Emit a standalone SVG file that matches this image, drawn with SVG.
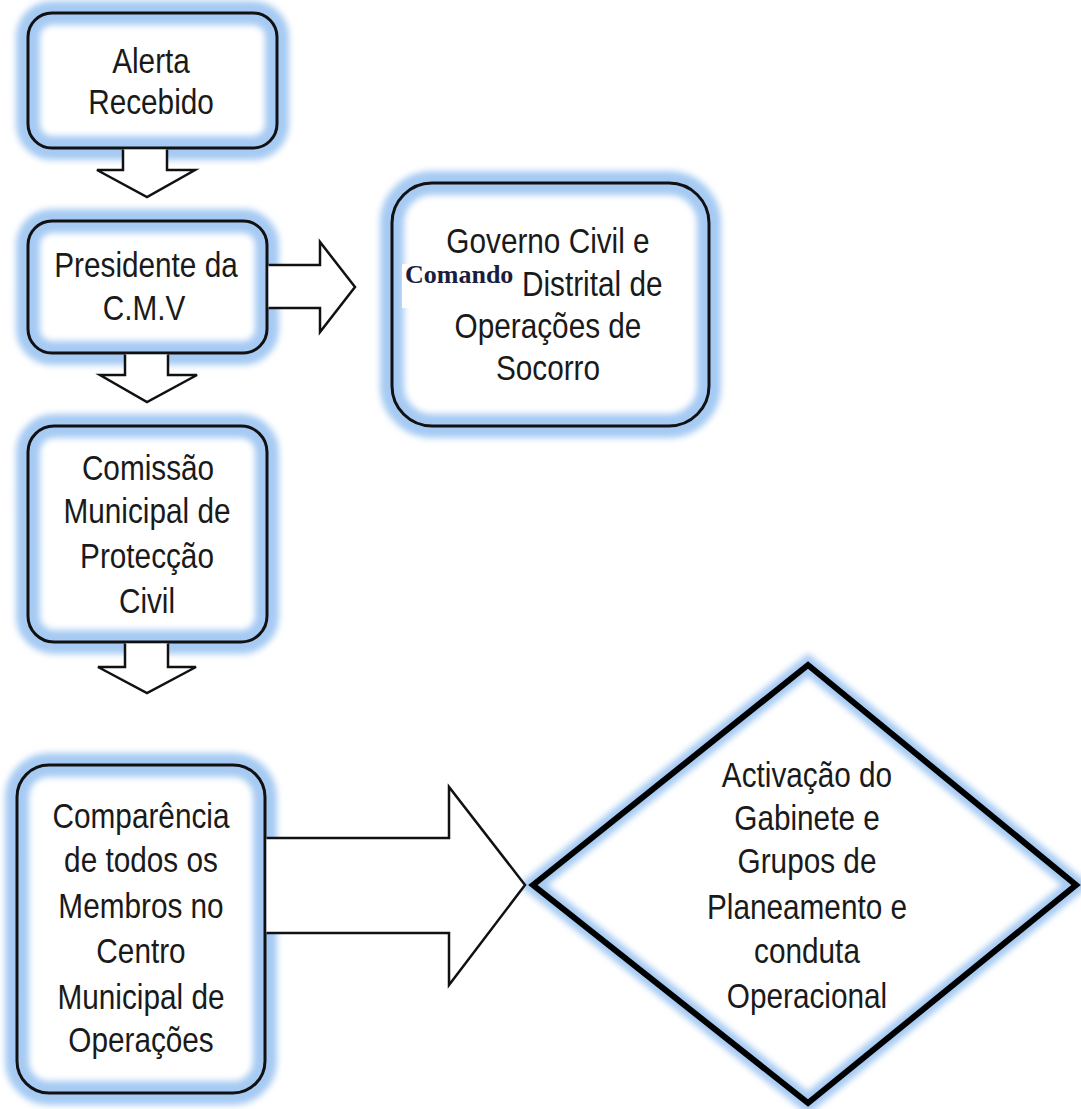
<svg xmlns="http://www.w3.org/2000/svg" width="1081" height="1109" viewBox="0 0 1081 1109">
<defs>
<filter id="blur" x="-20%" y="-20%" width="140%" height="140%">
<feGaussianBlur stdDeviation="3"/>
</filter>
<style>
.fill{fill:#ffffff;stroke:none}
.glow{fill:none;stroke:#a6caf3;stroke-width:24;filter:url(#blur)}
.edge{fill:none;stroke:#111111;stroke-width:3}
.dedge{fill:none;stroke:#000000;stroke-width:6;stroke-linejoin:miter}
.arrow{fill:#ffffff;stroke:#111111;stroke-width:2.5;stroke-linejoin:miter}
.t{font-family:"Liberation Sans",Arial,sans-serif;font-size:35px;fill:#1a1a1a;text-anchor:middle}
.ts{font-family:"Liberation Sans",Arial,sans-serif;font-size:35px;fill:#1a1a1a;text-anchor:start}
.cmd{font-family:"Liberation Serif","Times New Roman",serif;font-size:26px;font-weight:bold;fill:#1c1c3e}
</style>
</defs>
<rect width="1081" height="1109" fill="#ffffff"/>

<g id="node-alerta">
<rect class="fill" x="28" y="13" width="249" height="135" rx="24"/>
<rect class="glow" x="28" y="13" width="249" height="135" rx="24"/>
<rect class="edge" x="28" y="13" width="249" height="135" rx="24"/>
<text class="t" transform="matrix(0.85 0 0 1 151 73)">Alerta</text>
<text class="t" transform="matrix(0.85 0 0 1 151 114)">Recebido</text>
</g>

<g id="node-presidente">
<rect class="fill" x="28" y="221" width="239" height="132" rx="24"/>
<rect class="glow" x="28" y="221" width="239" height="132" rx="24"/>
<rect class="edge" x="28" y="221" width="239" height="132" rx="24"/>
<text class="t" transform="matrix(0.85 0 0 1 146 277)">Presidente da</text>
<text class="t" transform="matrix(0.85 0 0 1 144 320)">C.M.V</text>
</g>

<g id="node-governo">
<rect class="fill" x="392" y="183" width="317" height="243" rx="40"/>
<rect class="glow" x="392" y="183" width="317" height="243" rx="40"/>
<rect class="edge" x="392" y="183" width="317" height="243" rx="40"/>
<text class="t" transform="matrix(0.85 0 0 1 548 253)">Governo Civil e</text>
<rect x="402" y="264" width="116" height="44" fill="#ffffff"/>
<text class="cmd" x="405" y="283">Comando</text>
<text class="ts" transform="matrix(0.85 0 0 1 522 296)">Distrital de</text>
<text class="t" transform="matrix(0.85 0 0 1 548 338)">Operações de</text>
<text class="t" transform="matrix(0.85 0 0 1 548 380)">Socorro</text>
</g>

<g id="node-comissao">
<rect class="fill" x="28" y="426" width="239" height="216" rx="26"/>
<rect class="glow" x="28" y="426" width="239" height="216" rx="26"/>
<rect class="edge" x="28" y="426" width="239" height="216" rx="26"/>
<text class="t" transform="matrix(0.85 0 0 1 148 480)">Comissão</text>
<text class="t" transform="matrix(0.85 0 0 1 147 523)">Municipal de</text>
<text class="t" transform="matrix(0.85 0 0 1 147 568)">Protecção</text>
<text class="t" transform="matrix(0.85 0 0 1 147 613)">Civil</text>
</g>

<g id="node-comparencia">
<rect class="fill" x="17" y="765" width="248" height="328" rx="32"/>
<rect class="glow" x="17" y="765" width="248" height="328" rx="32"/>
<rect class="edge" x="17" y="765" width="248" height="328" rx="32"/>
<text class="t" transform="matrix(0.85 0 0 1 141 828)">Comparência</text>
<text class="t" transform="matrix(0.85 0 0 1 141 872)">de todos os</text>
<text class="t" transform="matrix(0.85 0 0 1 141 918)">Membros no</text>
<text class="t" transform="matrix(0.85 0 0 1 141 963)">Centro</text>
<text class="t" transform="matrix(0.85 0 0 1 141 1009)">Municipal de</text>
<text class="t" transform="matrix(0.85 0 0 1 141 1052)">Operações</text>
</g>

<g id="node-activacao">
<polygon class="fill" points="533,885 808,665 1076,885 808,1103"/>
<polygon class="glow" points="533,885 808,665 1076,885 808,1103" style="stroke-width:18"/>
<polygon class="dedge" points="533,885 808,665 1076,885 808,1103"/>
<text class="t" transform="matrix(0.85 0 0 1 807 787)">Activação do</text>
<text class="t" transform="matrix(0.85 0 0 1 807 830)">Gabinete e</text>
<text class="t" transform="matrix(0.85 0 0 1 807 873)">Grupos de</text>
<text class="t" transform="matrix(0.85 0 0 1 807 919)">Planeamento e</text>
<text class="t" transform="matrix(0.85 0 0 1 807 963)">conduta</text>
<text class="t" transform="matrix(0.85 0 0 1 807 1008)">Operacional</text>
</g>

<g id="connectors">
<path class="arrow" d="M123,149.5 V170 H97 L147,197 L195,170 H167 V149.5"/>
<path class="arrow" d="M125,354.5 V375 H100 L147,402 L197,375 H168 V354.5"/>
<path class="arrow" d="M125,643.5 V667 H98 L147,693 L196,667 H168 V643.5"/>
<path class="arrow" d="M268.5,265 H320 V242 L355,287 L320,332 V308 H268.5"/>
<path class="arrow" d="M266.5,838 H449 V787 L525,885 L449,985 V933 H266.5"/>
</g>
</svg>
